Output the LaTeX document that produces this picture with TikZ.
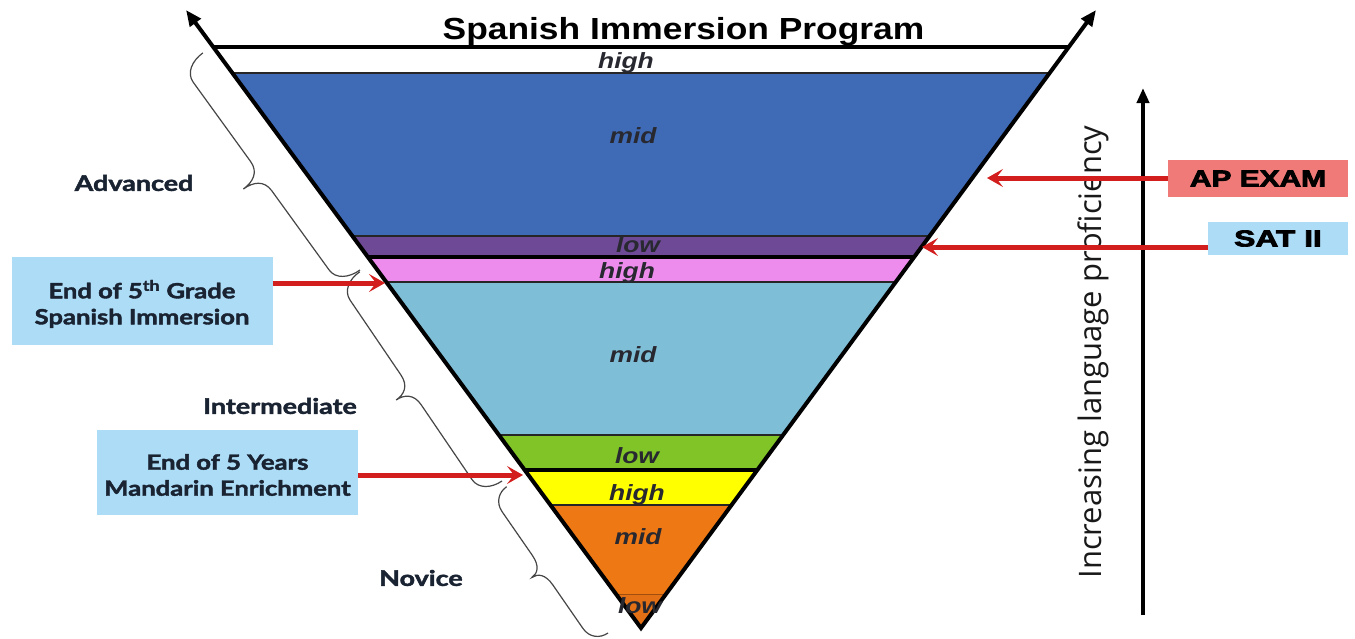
\documentclass[tikz,border=0pt]{standalone}
\usepackage{fontspec}
\usepackage{graphicx}
\setmainfont{Liberation Sans}
\newfontfamily\labfont[BoldFeatures={FakeBold=1.8}]{Lato}
\newfontfamily\axisfont{Open Sans}
\newfontfamily\heavyfont[BoldFeatures={FakeBold=3}]{Liberation Sans}
\usetikzlibrary{arrows.meta}
\newcommand{\SX}[2][1.2]{\scalebox{#1}[1]{#2}}
\definecolor{bandwhite}{RGB}{255,255,255}
\definecolor{bandblue}{RGB}{63,106,181}
\definecolor{bandpurple}{RGB}{110,74,150}
\definecolor{bandpink}{RGB}{238,140,238}
\definecolor{bandlight}{RGB}{126,190,214}
\definecolor{bandgreen}{RGB}{128,196,40}
\definecolor{bandyellow}{RGB}{255,255,0}
\definecolor{bandorange}{RGB}{238,120,20}
\definecolor{bandlow}{RGB}{228,112,22}
\definecolor{boxblue}{RGB}{173,220,246}
\definecolor{boxred}{RGB}{240,122,120}
\definecolor{arrred}{RGB}{210,30,28}
\definecolor{lbltext}{RGB}{40,40,48}
\definecolor{navytext}{RGB}{25,35,50}
\definecolor{bracegray}{RGB}{70,70,70}
\newcommand{\lvlbrace}[6]{%
  \begin{scope}[shift={(#1,#2)}, rotate=#6, y=1pt]
    \draw[bracestyle] (0,0) .. controls (0,{0.55*#4}) and (7,#4) .. (18,#4)
      -- ({#3/2-18},#4) .. controls ({#3/2-5},#4) and ({#3/2},{#4+0.45*(#5-#4)}) .. ({#3/2},#5)
      .. controls ({#3/2},{#4+0.45*(#5-#4)}) and ({#3/2+5},#4) .. ({#3/2+18},#4)
      -- ({#3-18},#4) .. controls ({#3-7},#4) and (#3,{0.55*#4}) .. (#3,0);
  \end{scope}}
\begin{document}
\begin{tikzpicture}[x=1pt,y=-1pt,
  bandlbl/.style={font=\bfseries\itshape\fontsize{22}{22}\selectfont, text=lbltext, anchor=base, inner sep=0pt},
  levellbl/.style={font=\labfont\bfseries\fontsize{21.5}{24}\selectfont, text=navytext, inner sep=0pt},
  infobox/.style={fill=boxblue, inner sep=0pt, font=\labfont\bfseries\fontsize{21}{26}\selectfont, text=navytext, align=center},
  exambox/.style={inner sep=0pt, font=\heavyfont\bfseries\fontsize{23}{23}\selectfont, text=black},
  redarrow/.style={draw=arrred, line width=5pt, -{Stealth[length=16pt,width=18pt,inset=7pt]}},
  edgeline/.style={line width=4pt, line join=miter, {Triangle[length=16pt,width=13pt]}-{Triangle[length=16pt,width=13pt]}},
  thinline/.style={line width=1.2pt, draw=black!85},
  thickline/.style={line width=4.5pt, draw=black},
  bracestyle/.style={draw=bracegray, line width=1.2pt},
  axisarrow/.style={line width=4pt, -{Triangle[length=15pt,width=12pt]}}
]
\useasboundingbox (0,0) rectangle (1355,638);
\fill[white] (0,0) rectangle (1355,638);

% coordinates of the funnel
\coordinate (apex) at (641,628);
\coordinate (tl) at (186,10);
\coordinate (tr) at (1096,10);
\coordinate (topl) at (213,47);
\coordinate (topr) at (1069,47);

% bands
\begin{scope}
  \clip (topl) -- (topr) -- (apex) -- cycle;
  \fill[bandwhite]  (150,40) rectangle (1150,73);
  \fill[bandblue]   (150,73) rectangle (1150,236);
  \fill[bandpurple] (150,236) rectangle (1150,257);
  \fill[bandpink]   (150,257) rectangle (1150,282);
  \fill[bandlight]  (150,282) rectangle (1150,435);
  \fill[bandgreen]  (150,435) rectangle (1150,470);
  \fill[bandyellow] (150,470) rectangle (1150,505);
  \fill[bandorange] (150,505) rectangle (1150,594);
  \fill[bandlow]    (150,594) rectangle (1150,640);
  \draw[thinline] (150,73) -- (1150,73);
  \draw[thinline] (150,236) -- (1150,236);
  \draw[thickline] (150,257) -- (1150,257);
  \draw[thinline] (150,282) -- (1150,282);
  \draw[thinline] (150,435) -- (1150,435);
  \draw[thickline] (150,470) -- (1150,470);
  \draw[thinline] (150,505) -- (1150,505);
  \draw[line width=0.8pt, draw=bandlow!70!black] (150,594) -- (1150,594);
\end{scope}

\draw[line width=3.5pt] (topl) -- (topr);
\draw[edgeline] (tl) -- (apex) -- (tr);

% band labels
\node[bandlbl] (l1) at (626,68) {\SX{high}};
\node[bandlbl] (l2) at (633,143) {\SX{mid}};
\node[bandlbl] (l3) at (638,252) {\SX{low}};
\node[bandlbl] (l4) at (627,278) {\SX{high}};
\node[bandlbl] (l5) at (633,362) {\SX{mid}};
\node[bandlbl] (l6) at (637,463) {\SX{low}};
\node[bandlbl] (l7) at (637,500) {\SX{high}};
\node[bandlbl] (l8) at (638,544) {\SX{mid}};
\node[bandlbl] (l9) at (640,613) {\SX{low}};

% title
\node[anchor=base, inner sep=0pt, font=\bfseries\fontsize{30.5}{36}\selectfont] (title) at (683.5,39) {\SX[1.16]{Spanish Immersion Program}};

% braces
\lvlbrace{360}{270}{268}{25}{47}{125.9}
\lvlbrace{502}{481}{253}{24}{42}{124.2}
\lvlbrace{608}{633}{178}{18}{31}{124.7}

% level labels
\node[levellbl] (adv) at (134,183) {\SX[1.25]{Advanced}};
\node[levellbl, anchor=east] (int) at (357,406) {\SX[1.25]{Intermediate}};
\node[levellbl] (nov) at (421,578) {\SX[1.25]{Novice}};

% info boxes
\node[infobox, minimum width=261pt, minimum height=88pt] (box1) at (142,301)
  {\raisebox{-5pt}[\height][\depth]{\SX[1.22]{\begin{tabular}{@{}c@{}}End of 5\textsuperscript{th} Grade\\Spanish Immersion\end{tabular}}}};
\node[infobox, minimum width=261pt, minimum height=85pt] (box2) at (227.5,472.5)
  {\raisebox{-5pt}[\height][\depth]{\SX[1.22]{\begin{tabular}{@{}c@{}}End of 5 Years\\Mandarin Enrichment\end{tabular}}}};

% axis
\coordinate (ax0) at (1143,615);
\coordinate (ax1) at (1143,88);
\draw[axisarrow] (ax0) -- (ax1);
\node[rotate=90, inner sep=0pt, font=\axisfont\fontsize{31}{34}\selectfont, text=black!90] (axlbl) at (1093,352) {Increasing language proficiency};

% exam boxes
\node[exambox, fill=boxred, minimum width=180pt, minimum height=37pt] (ap) at (1258,178.5) {\SX[1.3]{AP EXAM}};
\node[exambox, fill=boxblue, minimum width=140pt, minimum height=33pt] (sat) at (1278,238.5) {\SX[1.38]{SAT II}};

% arrow targets
\coordinate (t1) at (385,283);
\coordinate (t2) at (523,475);
\coordinate (t3) at (987,178);
\coordinate (t4) at (922,247);

\draw[redarrow] (box1.east |- t1) -- (t1);
\draw[redarrow] (box2.east |- t2) -- (t2);
\draw[redarrow] (ap.west |- t3) -- (t3);
\draw[redarrow] (sat.west |- t4) -- (t4);
\end{tikzpicture}
\end{document}
